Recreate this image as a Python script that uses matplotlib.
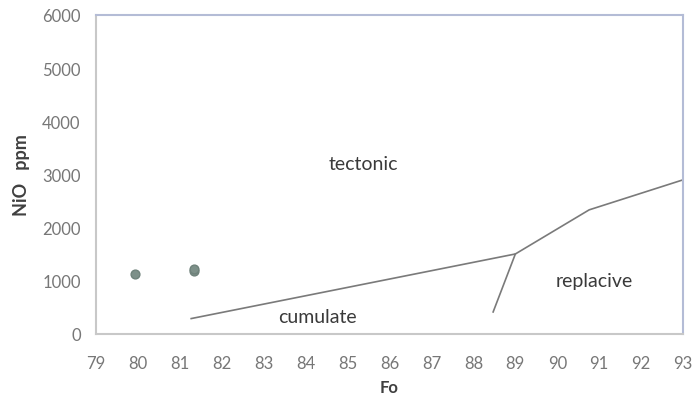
import matplotlib
matplotlib.use("Agg")
import matplotlib.pyplot as plt

# Data
sample_fo = [79.93, 81.34, 81.34]
sample_nio = [1128, 1180, 1230]
boundary_fo = [81.27, 89.0, 90.76, 93.0]
boundary_nio = [290, 1505, 2335, 2900]
branch_fo = [89.0, 88.47]
branch_nio = [1505, 414]
labels = ["tectonic", "cumulate", "replacive"]
label_fo = [85.37, 84.27, 90.88]
label_nio = [3216, 320, 997]

plt.rcParams['font.family'] = ['Lato', 'DejaVu Sans']
fig = plt.figure(figsize=(6.94, 4.02), dpi=100)
ax = fig.add_axes([0.1383, 0.1667, 0.846, 0.7935])

ax.plot(boundary_fo, boundary_nio, color='#7a7a7a', lw=1.2)
ax.plot(branch_fo, branch_nio, color='#7a7a7a', lw=1.2)
ax.scatter(sample_fo, sample_nio, s=40, color='#7d9089', edgecolor='#6f827b', zorder=3)

for t, x, y in zip(labels, label_fo, label_nio):
    ax.text(x, y, t, ha='center', va='center', fontsize=14, color='#3a3a3a')

ax.set_xlim(79, 93)
ax.set_ylim(0, 6000)
ax.set_xticks(range(79, 94))
ax.set_yticks(range(0, 6001, 1000))
ax.tick_params(length=0, labelsize=12, colors='#777777')
ax.tick_params(axis='x', pad=15)
ax.tick_params(axis='y', pad=11)
for s in ax.spines.values():
    s.set_color('#b4bcd6')
    s.set_linewidth(1.5)
ax.spines['bottom'].set_color('#c8c8c8')
ax.spines['left'].set_color('#c8c8c8')

ax.set_xlabel('Fo', fontsize=12, fontweight='bold', color='#404040', labelpad=6)
ax.set_ylabel('NiO   ppm', fontsize=13, fontweight='bold', color='#404040', labelpad=9)

fig.savefig('out.png', dpi=100)
